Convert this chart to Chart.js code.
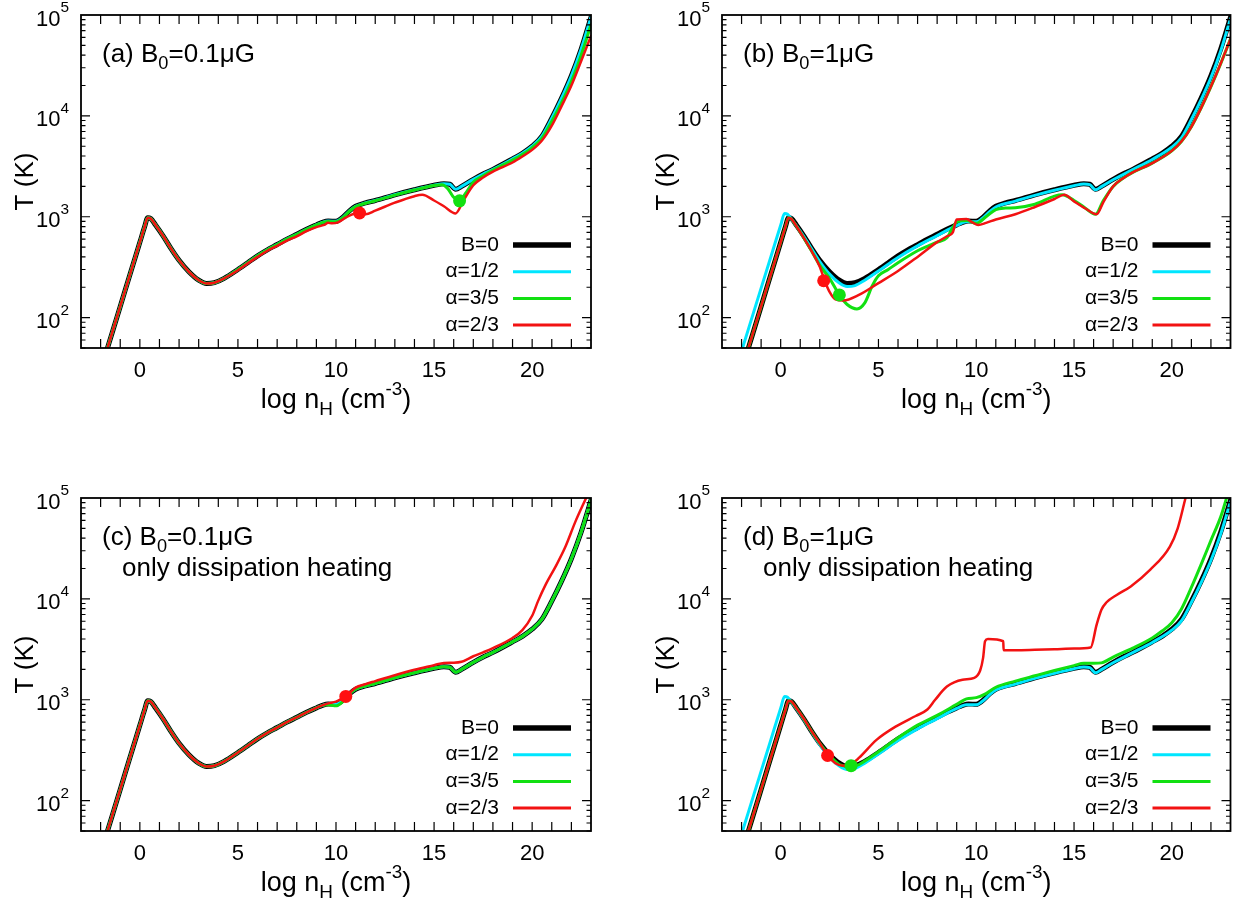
<!DOCTYPE html>
<html>
<head>
<meta charset="utf-8">
<script src="https://cdn.jsdelivr.net/npm/chart.js@4.4.1/dist/chart.umd.min.js"></script>
<style>
  body { margin: 0; background: #fff; }
  #wrap { position: relative; width: 1237px; height: 900px; background: #fff; }
  canvas { position: absolute; }
</style>
</head>
<body>
<div id="wrap">
  <canvas id="pa" width="618" height="450" style="left:0;top:0"></canvas>
  <canvas id="pb" width="618" height="450" style="left:619px;top:0"></canvas>
  <canvas id="pc" width="618" height="450" style="left:0;top:450px"></canvas>
  <canvas id="pd" width="618" height="450" style="left:619px;top:450px"></canvas>
</div>
<script>
// ---- Veriler: log nH (x) ve T [K] (y) ----

// B=0 (tüm panellerde aynı)
const xB0 = [-1.65, -1, -0.5, 0, 0.25, 0.4, 0.55, 0.8, 1.2, 1.6, 2, 2.5, 3, 3.4, 3.8, 4.3, 5, 5.5, 6, 6.5, 7, 7.5, 8, 8.5, 9, 9.3, 9.6, 10, 10.3, 10.7, 11, 11.5, 12, 13, 14, 15, 15.5, 15.8, 16.1, 16.4, 17, 17.5, 18, 19, 19.5, 20, 20.5, 21, 21.5, 22, 22.5, 23];
const tB0 = [50, 129, 269, 558, 804, 980, 960, 830, 640, 480, 370, 285, 235, 218, 222, 245, 300, 350, 410, 470, 530, 600, 670, 750, 830, 880, 910, 900, 970, 1150, 1270, 1370, 1450, 1650, 1850, 2050, 2130, 2100, 1870, 2000, 2350, 2650, 2950, 3750, 4250, 5000, 6300, 9500, 15000, 25000, 46000, 95000];

// (a) B0=0.1uG
const xG_a = [-1.65, -1, -0.5, 0, 0.25, 0.4, 0.55, 0.8, 1.2, 1.6, 2, 2.5, 3, 3.4, 3.8, 4.3, 5, 5.5, 6, 6.5, 7, 7.5, 8, 8.5, 9, 9.3, 9.6, 10, 10.3, 10.7, 11, 11.5, 12, 13, 14, 15, 15.4, 15.7, 16, 16.3, 16.6, 17, 17.5, 18, 19, 19.5, 20, 20.5, 21, 21.5, 22, 22.5, 23];
const tG_a = [50, 129, 269, 558, 804, 980, 960, 830, 640, 480, 370, 285, 235, 218, 222, 245, 300, 350, 410, 470, 530, 600, 670, 750, 830, 875, 895, 890, 960, 1140, 1260, 1360, 1440, 1640, 1840, 2040, 2080, 1900, 1560, 1440, 1700, 2200, 2550, 2900, 3650, 4150, 4850, 6000, 8800, 13500, 22000, 40000, 80000];
const xR_a = [-1.65, -1, -0.5, 0, 0.25, 0.4, 0.55, 0.8, 1.2, 1.6, 2, 2.5, 3, 3.4, 3.8, 4.3, 5, 5.5, 6, 6.5, 7, 7.5, 8, 8.5, 9, 9.4, 9.6, 9.8, 10.1, 10.5, 11, 11.5, 12, 13, 14, 14.4, 15, 15.5, 16.1, 16.5, 17, 17.5, 18, 19, 19.5, 20, 20.5, 21, 21.5, 22, 22.5, 23];
const tR_a = [50, 129, 269, 558, 804, 980, 960, 830, 640, 480, 370, 285, 235, 218, 222, 245, 295, 345, 400, 460, 515, 580, 640, 720, 790, 830, 870, 860, 880, 980, 1080, 1060, 1150, 1380, 1600, 1650, 1450, 1270, 1080, 1450, 2050, 2450, 2800, 3450, 3950, 4600, 5700, 8000, 12500, 20000, 35000, 62000];

// (b) ve (d) B0=1uG, alpha=1/2
const xC_1 = [-1.95, -1, -0.5, 0, 0.2, 0.35, 0.6, 1, 1.5, 2, 2.5, 3, 3.4, 3.8, 4.3, 5, 6, 7, 8, 9, 9.5, 10, 10.3, 10.7, 11, 12, 13, 14, 15, 15.5, 15.8, 16.1, 16.4, 17, 18, 19, 20, 20.5, 21, 21.5, 22, 22.5, 23];
const tC_1 = [50, 196, 402, 824, 1080, 1060, 920, 720, 510, 360, 270, 220, 203, 208, 235, 290, 395, 515, 650, 820, 890, 890, 960, 1130, 1250, 1430, 1630, 1830, 2030, 2110, 2080, 1850, 1990, 2330, 2930, 3700, 4900, 6100, 9200, 14500, 24000, 44000, 92000];

// (b) B0=1uG
const xG_b = [-1.65, -1, -0.5, 0, 0.25, 0.4, 0.55, 0.8, 1.2, 1.6, 2, 2.5, 3, 3.4, 3.9, 4.3, 4.7, 5, 5.5, 6, 7, 7.5, 8, 8.5, 8.8, 9, 9.5, 10, 10.5, 11, 11.5, 12, 13, 14, 14.4, 15, 15.5, 16.1, 16.5, 17, 17.5, 18, 19, 20, 20.5, 21, 21.5, 22, 22.5, 23];
const tG_b = [50, 129, 269, 558, 804, 980, 950, 810, 610, 450, 330, 245, 168, 135, 122, 140, 210, 260, 300, 350, 460, 510, 560, 620, 780, 890, 920, 860, 1000, 1180, 1220, 1230, 1330, 1600, 1650, 1450, 1250, 1060, 1450, 2000, 2400, 2750, 3400, 4500, 5600, 7800, 12000, 19500, 33000, 58000];
const xR_b = [-1.65, -1, -0.5, 0, 0.25, 0.4, 0.55, 0.8, 1.2, 1.6, 2, 2.25, 2.5, 2.8, 3.2, 4, 5, 6, 7, 8, 8.5, 8.8, 9, 9.5, 9.8, 10.1, 10.5, 11, 12, 13, 14, 14.5, 15, 15.6, 16.15, 16.5, 17, 17.5, 18, 19, 20, 20.5, 21, 21.5, 22, 22.5, 23];
const tR_b = [50, 129, 269, 558, 804, 980, 950, 810, 610, 450, 320, 232, 180, 152, 148, 168, 220, 290, 400, 560, 640, 700, 940, 950, 880, 830, 870, 940, 1060, 1250, 1500, 1650, 1420, 1200, 1060, 1400, 2000, 2400, 2750, 3400, 4500, 5600, 7800, 12000, 19500, 33000, 58000];

// (c) B0=0.1uG, sadece dissipation
const xG_c = [-1.65, -1, -0.5, 0, 0.25, 0.4, 0.55, 0.8, 1.2, 1.6, 2, 2.5, 3, 3.4, 3.8, 4.3, 5, 5.5, 6, 6.5, 7, 7.5, 8, 8.5, 9, 9.3, 9.6, 10, 10.3, 10.7, 11, 11.5, 12, 13, 14, 15, 15.5, 15.8, 16.1, 16.4, 17, 17.5, 18, 19, 19.5, 20, 20.5, 21, 21.5, 22, 22.5, 23];
const tG_c = [50, 129, 269, 558, 804, 980, 960, 830, 640, 480, 370, 285, 235, 218, 222, 245, 300, 350, 410, 470, 530, 600, 670, 750, 830, 880, 890, 870, 940, 1150, 1270, 1370, 1450, 1650, 1850, 2050, 2130, 2100, 1870, 2000, 2350, 2650, 2950, 3750, 4250, 5000, 6300, 9500, 15000, 25000, 46000, 95000];
const xR_c = [-1.65, -1, -0.5, 0, 0.25, 0.4, 0.55, 0.8, 1.2, 1.6, 2, 2.5, 3, 3.4, 3.8, 4.3, 5, 5.5, 6, 6.5, 7, 7.5, 8, 8.5, 9, 9.3, 9.6, 10, 10.5, 11, 11.5, 12, 13, 14, 15, 15.5, 16, 16.4, 17, 17.5, 18, 19, 19.5, 20, 20.3, 20.7, 21.2, 21.7, 22.2, 22.75];
const tR_c = [50, 129, 269, 558, 804, 980, 960, 830, 640, 480, 370, 285, 235, 218, 222, 245, 300, 350, 410, 470, 530, 600, 670, 750, 830, 880, 920, 960, 1080, 1320, 1430, 1530, 1750, 1980, 2200, 2320, 2330, 2380, 2700, 2950, 3250, 4100, 4900, 6800, 9500, 14000, 21000, 33000, 58000, 100000];

// (d) B0=1uG, sadece dissipation
const xG_d = [-1.65, -1, -0.5, 0, 0.25, 0.4, 0.55, 0.8, 1.2, 1.6, 2, 2.5, 3, 3.5, 4, 4.5, 5, 6, 7, 8, 9, 9.5, 10, 10.5, 11, 12, 13, 14, 15, 15.5, 16, 16.4, 17, 18, 19, 19.5, 20, 20.5, 21, 21.5, 22, 22.5, 22.8];
const tG_d = [50, 129, 269, 558, 804, 980, 960, 830, 640, 480, 370, 280, 228, 218, 228, 262, 305, 420, 560, 700, 900, 1020, 1050, 1150, 1330, 1530, 1730, 1950, 2180, 2300, 2300, 2320, 2650, 3250, 4100, 4800, 5800, 8000, 13000, 22000, 38000, 65000, 100000];
const xR_d = [-1.65, -1, -0.5, 0, 0.25, 0.4, 0.55, 0.8, 1.2, 1.6, 2, 2.4, 2.8, 3.2, 3.6, 4, 4.9, 5.9, 6.9, 7.5, 7.9, 8.5, 9.3, 9.9, 10.2, 10.35, 10.45, 10.6, 11.38, 11.4, 12, 13, 14, 15, 15.85, 16.15, 16.4, 16.65, 17.2, 17.9, 18.9, 19.9, 20.3, 20.7];
const tR_d = [50, 129, 269, 558, 804, 980, 960, 830, 640, 480, 370, 280, 235, 222, 230, 265, 400, 545, 690, 800, 1000, 1350, 1580, 1650, 1950, 2600, 3800, 4000, 3800, 3100, 3100, 3130, 3170, 3220, 3300, 5500, 7800, 9200, 11000, 13300, 19500, 33000, 50000, 100000];

// işaret noktaları (panel sırası a, b, c, d)
const redDotX = [11.2, 2.2, 10.5, 2.4];
const redDotT = [1090, 232, 1080, 280];
const greenDotX = [16.3, 3.0, null, 3.6];
const greenDotT = [1440, 168, null, 222];

const seriesLabels = ['B=0', 'α=1/2', 'α=3/5', 'α=2/3'];
const xTickLabels = [0, 5, 10, 15, 20];
const yTickExp = [2, 3, 4, 5];

// stiller
const FONT = '"Liberation Sans", Arial, Helvetica, sans-serif';
const seriesColors = ['#000000', '#00e6ff', '#12e012', '#f21212'];
const seriesWidths = [5, 3, 3, 2.5];
const legendWidths = [5.5, 3, 3, 3];

// alt/üst simgeli metin: parts = [[metin, 0 normal | 1 alt | 2 üst], ...]
function drawRich(ctx, parts, x, y, size, align, raise) {
    let small = size * 0.7;
    let w = 0;
    parts.forEach(function(p) {
        ctx.font = (p[1] ? small : size) + 'px ' + FONT;
        w += ctx.measureText(p[0]).width;
    });
    let cx = align === 'right' ? x - w : (align === 'center' ? x - w / 2 : x);
    ctx.textAlign = 'left';
    ctx.textBaseline = 'alphabetic';
    parts.forEach(function(p) {
        ctx.font = (p[1] ? small : size) + 'px ' + FONT;
        let dy = p[1] === 1 ? size * 0.27 : (p[1] === 2 ? -size * raise : 0);
        ctx.fillText(p[0], cx, y + dy);
        cx += ctx.measureText(p[0]).width;
    });
}

// çerçeve, içe dönük tikler, etiketler ve lejant
function framePlugin(p) {
    return {
        id: 'frame_' + p.id,
        afterDatasetsDraw(chart) {
            let ctx = chart.ctx, a = chart.chartArea;
            let xs = chart.scales.x, ys = chart.scales.y;
            ctx.save();
            ctx.strokeStyle = '#000';
            ctx.lineWidth = 1.2;
            ctx.beginPath();
            for (let v = -2; v <= 22; v++) {
                let px = xs.getPixelForValue(v);
                ctx.moveTo(px, a.bottom); ctx.lineTo(px, a.bottom - 9);
                ctx.moveTo(px, a.top); ctx.lineTo(px, a.top + 9);
            }
            for (let e = 1; e <= 4; e++) {
                for (let m = 1; m <= 9; m++) {
                    let v = m * Math.pow(10, e);
                    if (v < 50) continue;
                    let py = ys.getPixelForValue(v);
                    let len = m === 1 ? 9 : 4.5;
                    ctx.moveTo(a.left, py); ctx.lineTo(a.left + len, py);
                    ctx.moveTo(a.right, py); ctx.lineTo(a.right - len, py);
                }
            }
            ctx.stroke();
            ctx.lineWidth = 1.8;
            ctx.strokeRect(a.left, a.top, a.right - a.left, a.bottom - a.top);

            ctx.fillStyle = '#000';
            ctx.font = '22px ' + FONT;
            ctx.textAlign = 'center';
            ctx.textBaseline = 'alphabetic';
            xTickLabels.forEach(function(v) {
                ctx.fillText(String(v), xs.getPixelForValue(v), a.bottom + 29);
            });
            yTickExp.forEach(function(e) {
                drawRich(ctx, [['10', 0], [String(e), 2]], a.left - 12, ys.getPixelForValue(Math.pow(10, e)) + 10.5, 22, 'right', 0.6);
            });

            // eksen başlıkları
            drawRich(ctx, [['log n', 0], ['H', 1], [' (cm', 0], ['-3', 2], [')', 0]], (a.left + a.right) / 2, a.bottom + 60, 27, 'center', 0.5);
            ctx.save();
            ctx.translate(a.left - 55, (a.top + a.bottom) / 2);
            ctx.rotate(-Math.PI / 2);
            ctx.font = '26px ' + FONT;
            ctx.textAlign = 'center';
            ctx.textBaseline = 'middle';
            ctx.fillText('T (K)', 0, 0);
            ctx.restore();

            // panel etiketi
            drawRich(ctx, p.label, a.left + 21, a.top + 47, 26, 'left', 0.5);
            if (p.note) {
                ctx.font = '26px ' + FONT;
                ctx.textAlign = 'left';
                ctx.textBaseline = 'alphabetic';
                ctx.fillText(p.note, a.left + 41, a.top + 78);
            }

            // lejant
            seriesLabels.forEach(function(lab, i) {
                let yy = a.top + 230 + i * 26.7;
                ctx.font = '21px ' + FONT;
                ctx.textAlign = 'right';
                ctx.textBaseline = 'middle';
                ctx.fillStyle = '#000';
                ctx.fillText(lab, a.right - 92, yy);
                ctx.strokeStyle = seriesColors[i];
                ctx.lineWidth = legendWidths[i];
                ctx.beginPath();
                ctx.moveTo(a.right - 78, yy);
                ctx.lineTo(a.right - 20, yy);
                ctx.stroke();
            });
            ctx.restore();
        }
    };
}

function makePanel(p) {
    let datasets = [];
    p.series.forEach(function(s, i) {
        datasets.push({
            label: seriesLabels[i],
            data: s[0].map((v, k) => ({ x: v, y: s[1][k] })),
            showLine: true,
            borderColor: seriesColors[i],
            backgroundColor: seriesColors[i],
            borderWidth: seriesWidths[i],
            pointRadius: 0,
            cubicInterpolationMode: 'monotone',
            borderJoinStyle: 'round',
            borderCapStyle: 'round',
            order: 4 - i
        });
    });
    if (greenDotX[p.idx] !== null) {
        datasets.push({
            data: [{ x: greenDotX[p.idx], y: greenDotT[p.idx] }],
            showLine: false, pointRadius: 6.5, borderWidth: 0,
            backgroundColor: seriesColors[2], order: 0
        });
    }
    datasets.push({
        data: [{ x: redDotX[p.idx], y: redDotT[p.idx] }],
        showLine: false, pointRadius: 6.5, borderWidth: 0,
        backgroundColor: '#ff1010', order: 0
    });

    new Chart(document.getElementById(p.id), {
        type: 'scatter',
        data: { datasets: datasets },
        options: {
            responsive: false,
            animation: false,
            events: [],
            layout: { padding: p.pad },
            scales: {
                x: { type: 'linear', min: -3, max: 23, display: false },
                y: { type: 'logarithmic', min: 50, max: 100000, display: false }
            },
            plugins: { legend: { display: false }, tooltip: { enabled: false } }
        },
        plugins: [framePlugin(p)]
    });
}

makePanel({
    id: 'pa', idx: 0,
    pad: { left: 81, top: 15, right: 27, bottom: 102 },
    label: [['(a) B', 0], ['0', 1], ['=0.1μG', 0]],
    series: [[xB0, tB0], [xB0, tB0], [xG_a, tG_a], [xR_a, tR_a]]
});
makePanel({
    id: 'pb', idx: 1,
    pad: { left: 103, top: 15, right: 5, bottom: 102 },
    label: [['(b) B', 0], ['0', 1], ['=1μG', 0]],
    series: [[xB0, tB0], [xC_1, tC_1], [xG_b, tG_b], [xR_b, tR_b]]
});
makePanel({
    id: 'pc', idx: 2,
    pad: { left: 81, top: 48, right: 27, bottom: 69 },
    label: [['(c) B', 0], ['0', 1], ['=0.1μG', 0]],
    note: 'only dissipation heating',
    series: [[xB0, tB0], [xB0, tB0], [xG_c, tG_c], [xR_c, tR_c]]
});
makePanel({
    id: 'pd', idx: 3,
    pad: { left: 103, top: 48, right: 5, bottom: 69 },
    label: [['(d) B', 0], ['0', 1], ['=1μG', 0]],
    note: 'only dissipation heating',
    series: [[xB0, tB0], [xC_1, tC_1], [xG_d, tG_d], [xR_d, tR_d]]
});
</script>
</body>
</html>
